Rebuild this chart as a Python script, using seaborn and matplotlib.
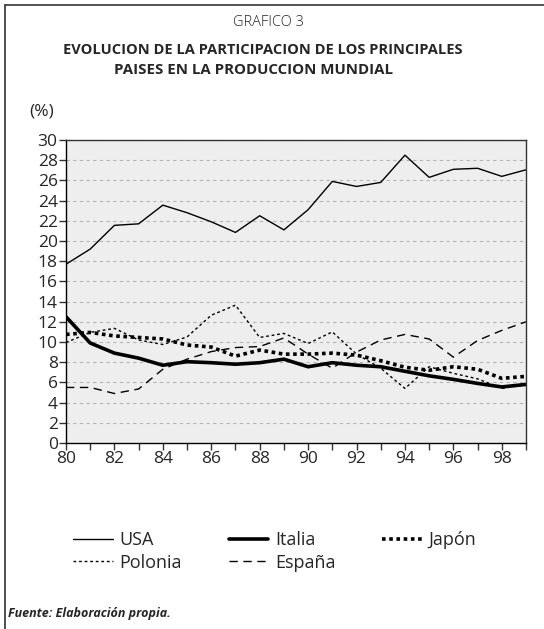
import numpy as np
import pandas as pd
import seaborn as sns
import matplotlib.pyplot as plt
from matplotlib.lines import Line2D
from matplotlib.ticker import MultipleLocator

# series (% of world production)
years = list(range(80, 100))
usa = [17.7, 19.2, 21.55, 21.7, 23.55, 22.8, 21.9, 20.85, 22.5, 21.1,
       23.1, 25.9, 25.4, 25.8, 28.5, 26.3, 27.1, 27.2, 26.4, 27.05]
italia = [12.5, 9.9, 8.9, 8.4, 7.7, 8.05, 7.95, 7.8, 7.95, 8.3,
          7.55, 7.95, 7.7, 7.55, 7.1, 6.65, 6.3, 5.9, 5.55, 5.8]
japon = [10.75, 10.95, 10.6, 10.45, 10.3, 9.7, 9.5, 8.6, 9.2, 8.8,
         8.8, 8.9, 8.7, 8.15, 7.5, 7.2, 7.55, 7.3, 6.4, 6.6]
polonia = [9.95, 10.95, 11.35, 10.2, 9.75, 10.5, 12.65, 13.65, 10.45, 10.85,
           9.85, 11.0, 8.8, 7.4, 5.4, 7.55, 6.9, 6.35, 5.4, 5.8]
espana = [5.5, 5.5, 4.9, 5.35, 7.3, 8.3, 9.05, 9.45, 9.55, 10.4,
          8.8, 7.4, 9.0, 10.2, 10.75, 10.3, 8.5, 10.15, 11.15, 12.0]

sns.set_style("white")
plt.rcParams['font.family'] = ['Open Sans', 'DejaVu Sans']

fig = plt.figure(figsize=(5.44, 6.29), dpi=100)
ax = fig.add_axes([66 / 544, 1 - 443 / 629, 460 / 544, 303 / 629])
ax.set_facecolor('#eeeeee')

styles = {
    'USA': (usa, 1.0, '-'),
    'Italia': (italia, 2.6, '-'),
    'Japón': (japon, 2.6, (0, (1, 1))),
    'Polonia': (polonia, 1.0, (0, (2, 2))),
    'España': (espana, 1.0, (0, (6, 4))),
}
handles = {}
for name, (vals, lw, ls) in styles.items():
    df = pd.DataFrame({'year': years, 'val': vals})
    sns.lineplot(data=df, x='year', y='val', ax=ax, color='black',
                 linewidth=lw, linestyle=ls)
    handles[name] = Line2D([], [], color='black', linewidth=lw, linestyle=ls)

ax.set_xlim(80, 99)
ax.set_ylim(0, 30)
ax.yaxis.set_major_locator(MultipleLocator(2))
ax.xaxis.set_major_locator(MultipleLocator(2))
ax.xaxis.set_minor_locator(MultipleLocator(1))
ax.set_xlabel('')
ax.set_ylabel('')
ax.grid(axis='y', color='#b5b5b5', linestyle=(0, (3, 3)), linewidth=0.8)
ax.grid(axis='x', visible=False)
ax.set_axisbelow(True)
for sp in ax.spines.values():
    sp.set_color('#333333')
    sp.set_linewidth(1.0)
ax.spines['left'].set_color('black')
ax.spines['bottom'].set_color('black')
ax.tick_params(axis='both', which='both', direction='out', length=5,
               width=1, color='#333333', labelsize=12.5, pad=1,
               left=True, bottom=True)
ax.tick_params(axis='x', which='minor', length=5)

# titles
fig.text(268 / 544, 1 - 22 / 629, 'GRAFICO 3', ha='center', va='center',
         fontsize=10.5, fontweight='light')
fig.text(263 / 544, 1 - 50 / 629, 'EVOLUCION DE LA PARTICIPACION DE LOS PRINCIPALES',
         ha='center', va='center', fontsize=10.5, fontweight='bold')
fig.text(253 / 544, 1 - 70 / 629, 'PAISES EN LA PRODUCCION MUNDIAL',
         ha='center', va='center', fontsize=10.8, fontweight='bold')
fig.text(42 / 544, 1 - 111 / 629, '(%)', ha='center', va='center', fontsize=12.5)

order = ['USA', 'Polonia', 'Italia', 'España', 'Japón']
fig.legend([handles[n] for n in order], order, ncol=3, frameon=False,
           loc='upper left', bbox_to_anchor=(57 / 544, 1 - 515 / 629),
           fontsize=13, handlelength=2.2, handletextpad=0.35,
           columnspacing=2.6, labelspacing=0.25)

fig.text(8 / 544, 1 - 614 / 629, 'Fuente: Elaboración propia.', ha='left',
         va='center', fontsize=9, fontweight='bold', fontstyle='italic')

# partial outer frame (left and top)
fig.add_artist(Line2D([5 / 544, 5 / 544], [0, 1 - 5 / 629], color='#333333',
                      linewidth=1.2, transform=fig.transFigure))
fig.add_artist(Line2D([5 / 544, 1], [1 - 5 / 629, 1 - 5 / 629], color='#333333',
                      linewidth=1.2, transform=fig.transFigure))

fig.savefig('out.png', dpi=100)
